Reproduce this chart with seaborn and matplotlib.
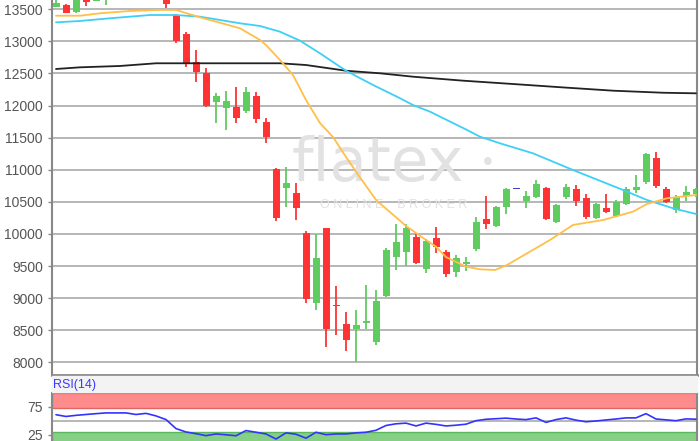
import numpy as np
import pandas as pd
import matplotlib
matplotlib.use("Agg")
import matplotlib.pyplot as plt
import seaborn as sns

# candles (one per trading day)
opens = [13540, 13567, 13460, 13750, 13630, 13680, 13760, 13850, 13800, 13880,
         13820, 13720, 13411, 13110, 12684, 12503, 12060, 11967, 11973, 11920,
         12149, 11749, 11007, 10711, 10643, 10010, 8929, 10088, 8890, 8597,
         8519, 8608, 8321, 9034, 9636, 9724, 9948, 9454, 9932, 9719,
         9412, 9532, 9761, 10233, 10124, 10425, 10695, 10513, 10571, 10721,
         10181, 10580, 10700, 10555, 10244, 10400, 10280, 10462, 10685, 10805,
         11179, 10696, 10373, 10596, 10622]
highs = [13660, 13580, 13720, 13780, 13740, 13800, 13900, 13920, 13940, 13950,
         13880, 13750, 13420, 13151, 12866, 12590, 12191, 12232, 12294, 12294,
         12216, 11802, 11020, 11048, 10789, 10051, 10000, 10100, 9189, 8779,
         8815, 9205, 9127, 9776, 10155, 10155, 10020, 9917, 10113, 9750,
         9672, 9645, 10269, 10591, 10435, 10721, 10695, 10674, 10840, 10736,
         10460, 10778, 10758, 10622, 10478, 10622, 10530, 10736, 10918, 11260,
         11272, 10736, 10607, 10752, 10720]
lows = [13530, 13440, 13445, 13555, 13625, 13570, 13700, 13760, 13760, 13780,
        13700, 13515, 12970, 12606, 12372, 11973, 11724, 11620, 11733, 11880,
        11733, 11412, 10202, 10425, 10217, 8929, 8815, 8243, 8425, 8181,
        8010, 8515, 8270, 9020, 9438, 9500, 9532, 9387, 9698, 9334,
        9334, 9427, 9740, 10082, 10103, 10306, 10695, 10409, 10560, 10217,
        10166, 10540, 10440, 10233, 10230, 10322, 10269, 10450, 10633, 10778,
        10721, 10487, 10322, 10518, 10580]
closes = [13603, 13447, 13680, 13620, 13700, 13760, 13850, 13800, 13880, 13820,
          13780, 13575, 13011, 12659, 12528, 11993, 12150, 12076, 11802, 12216,
          11786, 11506, 10244, 10798, 10400, 8986, 9630, 8519, 8875, 8348,
          8581, 8644, 8960, 9750, 9879, 10088, 9552, 9890, 9801, 9371,
          9625, 9568, 10191, 10155, 10415, 10700, 10695, 10591, 10778, 10233,
          10451, 10736, 10513, 10269, 10462, 10342, 10503, 10696, 10736, 11241,
          10747, 10503, 10571, 10658, 10705]

# moving averages, points (x in candle index)
ma_short_x = [0, 2.4, 4.4, 7.4, 10.4, 12, 14.4, 16.4, 18.4, 20.4, 21, 22.4, 23.7,
              25, 26.4, 27.7, 29, 30.4, 32, 35, 37, 38, 39, 41, 42.4, 43.9,
              45.1, 47.4, 49.4, 51.7, 54.7, 57.7, 59.1, 61.1, 64]
ma_short_y = [13400, 13400, 13438, 13474, 13490, 13490, 13375, 13291, 13204, 13022,
              12944, 12710, 12476, 12087, 11727, 11510, 11200, 10880, 10530, 10124,
              9906, 9801, 9640, 9490, 9449, 9438, 9516, 9724, 9906, 10140,
              10217, 10347, 10467, 10556, 10607]
ma_mid_x = [0, 2.4, 5.4, 9.4, 12, 14.4, 18.4, 20.4, 22.4, 24.4, 26.4, 29, 31.7,
            34.1, 35.7, 37.4, 41.1, 42.4, 44.4, 47.7, 51.7, 56.7, 59.1, 61.7, 64]
ma_mid_y = [13297, 13318, 13360, 13411, 13411, 13385, 13282, 13240, 13151, 13011,
            12814, 12543, 12321, 12138, 12009, 11905, 11620, 11515, 11412, 11256,
            10996, 10685, 10529, 10400, 10311]
ma_long_x = [0, 2.4, 6.4, 10, 18.4, 22.4, 25, 29, 32.4, 35.7, 40.7, 45.7, 50.7,
             55.7, 60.7, 64]
ma_long_y = [12570, 12596, 12617, 12659, 12659, 12659, 12632, 12543, 12503, 12450,
             12388, 12336, 12283, 12232, 12200, 12191]

rsi = [60.6, 57.5, 59.5, 61, 62.5, 63.8, 63.8, 63.8, 61, 63,
       58.5, 52, 36, 30, 27, 23.5, 26.5, 25, 23.3, 32.5,
       29.5, 26.5, 17.5, 28.4, 26, 19, 29.5, 25.2, 26.5, 26.5,
       28.4, 29.5, 33, 41.5, 44.5, 45.7, 40.7, 45.7, 43.5, 40.7,
       42, 43.8, 50, 52.5, 53.5, 54.5, 53, 51.9, 55, 47,
       52, 55, 51, 48.1, 49.5, 51.3, 53, 55, 55, 62.5,
       53, 51.5, 50, 53.2, 52.6]

price_ticks = list(range(8000, 14000, 500))

sns.set_style("white")
plt.rcParams["font.family"] = ["Liberation Sans", "DejaVu Sans"]

fig = plt.figure(figsize=(7, 4.41), dpi=100)
fig.patch.set_facecolor("white")

# light strip between the two panels
fig.patches.append(plt.Rectangle((52 / 700, 49 / 441), 645 / 700, 16 / 441,
                                 transform=fig.transFigure, color="#f3f3f3", zorder=0))

ax = fig.add_axes([52 / 700, 66 / 441, 645 / 700, 375 / 441])
ax_rsi = fig.add_axes([52 / 700, 0, 645 / 700, 48.5 / 441])

idx = np.arange(len(closes))
o = np.array(opens)
c = np.array(closes)
h = np.array(highs)
l = np.array(lows)
colors = np.where(c > o, "#5fcc5f", np.where(c < o, "#ff3333", "#4040cc"))

ax.vlines(idx, l, h, colors=colors, linewidth=1.3, zorder=3)
body = np.maximum(np.abs(c - o), 15)
ax.bar(idx, body, bottom=np.minimum(o, c), width=0.7, color=colors, zorder=4, linewidth=0)

ma = pd.concat([
    pd.DataFrame({"x": ma_long_x, "y": ma_long_y, "ma": "long"}),
    pd.DataFrame({"x": ma_mid_x, "y": ma_mid_y, "ma": "mid"}),
    pd.DataFrame({"x": ma_short_x, "y": ma_short_y, "ma": "short"}),
])
sns.lineplot(data=ma, x="x", y="y", hue="ma", sort=False, ax=ax, legend=False,
             palette={"long": "#222222", "mid": "#3dd0f5", "short": "#ffbf48"},
             linewidth=1.3, zorder=5)

# watermark
ax.text(0.505, 0.56, "flatex", transform=ax.transAxes, ha="center", va="center",
        fontsize=44, color="#e2e2e2", family="DejaVu Sans", zorder=1)
ax.text(0.676, 0.565, "•", transform=ax.transAxes, ha="center", va="center",
        fontsize=20, color="#e2e2e2", zorder=1)
ax.text(0.53, 0.452, "O N L I N E    B R O K E R", transform=ax.transAxes,
        ha="center", va="center", fontsize=9, color="#e2e2e2", zorder=1)

ax.set_xlim(-0.4, 64.1)
ax.set_ylim(7802, 13645)
ax.set_yticks(price_ticks)
ax.set_xticks([])
ax.grid(axis="y", color="#aaaaaa", linewidth=1.2, zorder=0)
ax.set_axisbelow(True)
ax.tick_params(axis="y", labelsize=10, labelcolor="#555555", color="#888888",
               length=3, width=1, left=True)
ax.set_xlabel("")
ax.set_ylabel("")
for side in ["left", "right"]:
    ax.spines[side].set_color("#888888")
    ax.spines[side].set_linewidth(1.5)
ax.spines["bottom"].set_color("#888888")
ax.spines["bottom"].set_linewidth(2)
ax.spines["top"].set_visible(False)

# RSI panel
ax_rsi.axhspan(72, 100, facecolor="#ff8c8c", edgecolor="#e06666", linewidth=1, zorder=1)
ax_rsi.axhspan(0, 30, facecolor="#86d086", edgecolor="#5cb85c", linewidth=1, zorder=1)
ax_rsi.axhline(50, color="#aaaaaa", linewidth=1.2, zorder=1)
sns.lineplot(x=idx, y=rsi, ax=ax_rsi, color="#3333ff", linewidth=1.2, zorder=3)
ax_rsi.set_xlim(-0.4, 64.1)
ax_rsi.set_ylim(14, 100)
ax_rsi.set_yticks([25, 75])
ax_rsi.set_xticks([])
ax_rsi.tick_params(axis="y", labelsize=10, labelcolor="#555555", color="#888888",
                   length=3, width=1, left=True)
for side in ["left", "right"]:
    ax_rsi.spines[side].set_color("#888888")
    ax_rsi.spines[side].set_linewidth(1.5)
ax_rsi.spines["top"].set_visible(False)
ax_rsi.spines["bottom"].set_visible(False)

fig.text(53 / 700, 1 - 385 / 441, "RSI(14)", color="#3a3aff", fontsize=9, va="center")

fig.savefig("out.png", dpi=100)
